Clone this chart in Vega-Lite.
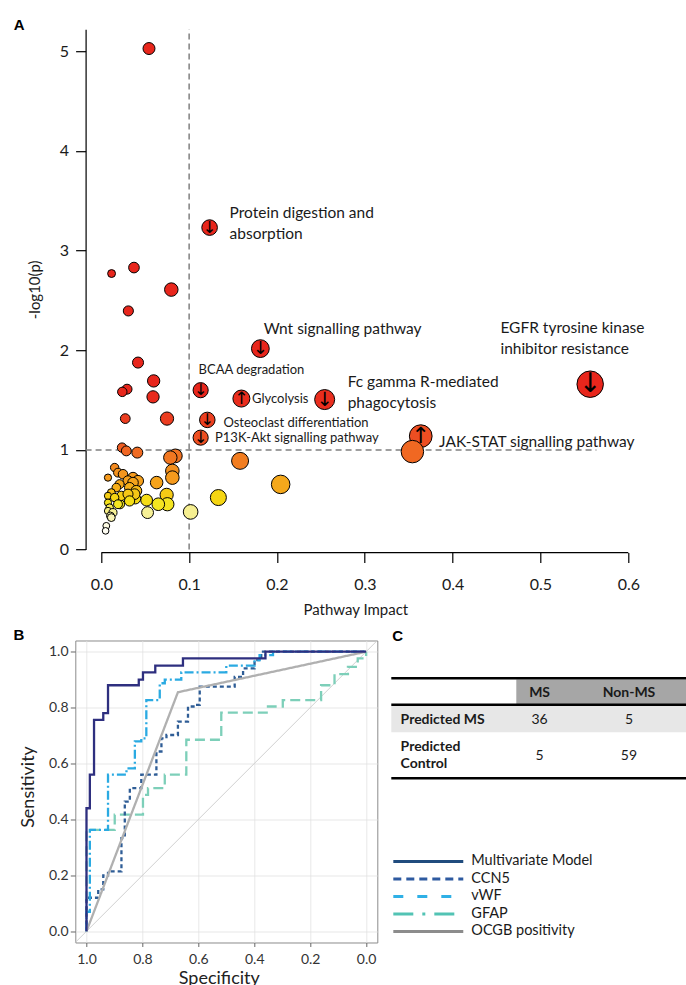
{
  "$schema": "https://vega.github.io/schema/vega-lite/v6.json",
  "autosize": {"type": "pad"},
  "padding": {"left": 12.3, "top": 17.2, "right": 0, "bottom": 0},
  "background": "white",
  "config": {
    "view": {"stroke": null},
    "font": "Lato",
    "axis": {"labelFont": "Lato", "titleFont": "Lato", "titleFontWeight": "normal", "labelFlush": false}
  },
  "datasets": {
    "pts": [
      {"impact": 0.0543, "logp": 5.026}, {"impact": 0.0117, "logp": 2.769}, {"impact": 0.0372, "logp": 2.829},
      {"impact": 0.0797, "logp": 2.608}, {"impact": 0.0308, "logp": 2.394}, {"impact": 0.0418, "logp": 1.876},
      {"impact": 0.0596, "logp": 1.692}, {"impact": 0.0293, "logp": 1.609}, {"impact": 0.0239, "logp": 1.582},
      {"impact": 0.0589, "logp": 1.532}, {"impact": 0.0273, "logp": 1.314}, {"impact": 0.0748, "logp": 1.314},
      {"impact": 0.0236, "logp": 1.023}, {"impact": 0.0285, "logp": 0.99}, {"impact": 0.041, "logp": 0.973},
      {"impact": 0.0843, "logp": 0.94}, {"impact": 0.0786, "logp": 0.923}, {"impact": 0.158, "logp": 0.89},
      {"impact": 0.0809, "logp": 0.789}, {"impact": 0.0809, "logp": 0.722}, {"impact": 0.063, "logp": 0.672},
      {"impact": 0.2042, "logp": 0.654}, {"impact": 0.1333, "logp": 0.522}, {"impact": 0.1017, "logp": 0.378},
      {"impact": 0.0744, "logp": 0.549}, {"impact": 0.0752, "logp": 0.455}, {"impact": 0.0649, "logp": 0.455},
      {"impact": 0.0527, "logp": 0.371}, {"impact": 0.0516, "logp": 0.496}, {"impact": 0.0387, "logp": 0.512},
      {"impact": 0.0213, "logp": 0.455}, {"impact": 0.0152, "logp": 0.823}, {"impact": 0.019, "logp": 0.772},
      {"impact": 0.0076, "logp": 0.722}, {"impact": 0.0361, "logp": 0.722}, {"impact": 0.0247, "logp": 0.756},
      {"impact": 0.0304, "logp": 0.69}, {"impact": 0.0418, "logp": 0.689}, {"impact": 0.0361, "logp": 0.672},
      {"impact": 0.0208, "logp": 0.656}, {"impact": 0.0322, "logp": 0.622}, {"impact": 0.0171, "logp": 0.622},
      {"impact": 0.0399, "logp": 0.589}, {"impact": 0.0114, "logp": 0.572}, {"impact": 0.0228, "logp": 0.539},
      {"impact": 0.0379, "logp": 0.556}, {"impact": 0.0304, "logp": 0.556}, {"impact": 0.0076, "logp": 0.539},
      {"impact": 0.0152, "logp": 0.522}, {"impact": 0.0322, "logp": 0.488}, {"impact": 0.0076, "logp": 0.471},
      {"impact": 0.019, "logp": 0.455}, {"impact": 0.0095, "logp": 0.421}, {"impact": 0.0076, "logp": 0.388},
      {"impact": 0.0133, "logp": 0.371}, {"impact": 0.0103, "logp": 0.338}, {"impact": 0.0114, "logp": 0.321},
      {"impact": 0.0057, "logp": 0.238}, {"impact": 0.0049, "logp": 0.188},
      {"impact": 0.1233, "logp": 3.23, "dir": "↓"}, {"impact": 0.1811, "logp": 2.016, "dir": "↓"},
      {"impact": 0.1131, "logp": 1.599, "dir": "↓"}, {"impact": 0.1595, "logp": 1.515, "dir": "↑"},
      {"impact": 0.2543, "logp": 1.505, "dir": "↓"}, {"impact": 0.5566, "logp": 1.659, "dir": "↓"},
      {"impact": 0.1207, "logp": 1.301, "dir": "↓"}, {"impact": 0.1131, "logp": 1.123, "dir": "↓"},
      {"impact": 0.3637, "logp": 1.138, "dir": "↑"}, {"impact": 0.3542, "logp": 0.983}
    ],
    "lbl": [
      {"text": "Protein digestion and", "impact": 0.1461, "logp": 3.381, "grp": "major"},
      {"text": "absorption", "impact": 0.1461, "logp": 3.17, "grp": "major"},
      {"text": "Wnt signalling pathway", "impact": 0.1849, "logp": 2.211, "grp": "major"},
      {"text": "EGFR tyrosine kinase", "impact": 0.4544, "logp": 2.221, "grp": "major"},
      {"text": "inhibitor resistance", "impact": 0.4544, "logp": 2.01, "grp": "major"},
      {"text": "Fc gamma R-mediated", "impact": 0.2805, "logp": 1.682, "grp": "major"},
      {"text": "phagocytosis", "impact": 0.2805, "logp": 1.472, "grp": "major"},
      {"text": "JAK-STAT signalling pathway", "impact": 0.3846, "logp": 1.083, "grp": "major"},
      {"text": "BCAA degradation", "impact": 0.1108, "logp": 1.8, "grp": "minor"},
      {"text": "Glycolysis", "impact": 0.1716, "logp": 1.515, "grp": "minor"},
      {"text": "Osteoclast differentiation", "impact": 0.139, "logp": 1.268, "grp": "minor"},
      {"text": "P13K-Akt signalling pathway", "impact": 0.1295, "logp": 1.117, "grp": "minor"}
    ],
    "vref": [{"impact": 0.1, "logp": 0, "logp2": 5.22}],
    "href": [{"impact": -0.0179, "impact2": 0.5637, "logp": 1}],
    "xline": [{"impact": 0, "impact2": 0.6, "logp": -0.0301}],
    "panelA": [{"t": "A", "impact": -0.0998, "logp": 5.331}],
    "roc": [
      {"model": "GFAP", "i": 0, "spec": 1, "sens": 0}, {"model": "GFAP", "i": 1, "spec": 1, "sens": 0.363},
      {"model": "GFAP", "i": 2, "spec": 0.899, "sens": 0.363}, {"model": "GFAP", "i": 3, "spec": 0.899, "sens": 0.417},
      {"model": "GFAP", "i": 4, "spec": 0.798, "sens": 0.417}, {"model": "GFAP", "i": 5, "spec": 0.798, "sens": 0.488},
      {"model": "GFAP", "i": 6, "spec": 0.78, "sens": 0.488}, {"model": "GFAP", "i": 7, "spec": 0.78, "sens": 0.512},
      {"model": "GFAP", "i": 8, "spec": 0.72, "sens": 0.512}, {"model": "GFAP", "i": 9, "spec": 0.72, "sens": 0.56},
      {"model": "GFAP", "i": 10, "spec": 0.643, "sens": 0.56}, {"model": "GFAP", "i": 11, "spec": 0.643, "sens": 0.685},
      {"model": "GFAP", "i": 12, "spec": 0.518, "sens": 0.685}, {"model": "GFAP", "i": 13, "spec": 0.518, "sens": 0.782},
      {"model": "GFAP", "i": 14, "spec": 0.351, "sens": 0.782}, {"model": "GFAP", "i": 15, "spec": 0.351, "sens": 0.804},
      {"model": "GFAP", "i": 16, "spec": 0.298, "sens": 0.804}, {"model": "GFAP", "i": 17, "spec": 0.298, "sens": 0.827},
      {"model": "GFAP", "i": 18, "spec": 0.161, "sens": 0.827}, {"model": "GFAP", "i": 19, "spec": 0.161, "sens": 0.88},
      {"model": "GFAP", "i": 20, "spec": 0.113, "sens": 0.88}, {"model": "GFAP", "i": 21, "spec": 0.113, "sens": 0.92},
      {"model": "GFAP", "i": 22, "spec": 0.065, "sens": 0.92}, {"model": "GFAP", "i": 23, "spec": 0.065, "sens": 0.946},
      {"model": "GFAP", "i": 24, "spec": 0.03, "sens": 0.946}, {"model": "GFAP", "i": 25, "spec": 0.03, "sens": 0.976},
      {"model": "GFAP", "i": 26, "spec": 0, "sens": 0.976}, {"model": "GFAP", "i": 27, "spec": 0, "sens": 1},
      {"model": "CCN5", "i": 0, "spec": 1, "sens": 0}, {"model": "CCN5", "i": 1, "spec": 1, "sens": 0.12},
      {"model": "CCN5", "i": 2, "spec": 0.958, "sens": 0.12}, {"model": "CCN5", "i": 3, "spec": 0.958, "sens": 0.15},
      {"model": "CCN5", "i": 4, "spec": 0.94, "sens": 0.15}, {"model": "CCN5", "i": 5, "spec": 0.94, "sens": 0.2},
      {"model": "CCN5", "i": 6, "spec": 0.923, "sens": 0.2}, {"model": "CCN5", "i": 7, "spec": 0.923, "sens": 0.214},
      {"model": "CCN5", "i": 8, "spec": 0.875, "sens": 0.214}, {"model": "CCN5", "i": 9, "spec": 0.875, "sens": 0.333},
      {"model": "CCN5", "i": 10, "spec": 0.863, "sens": 0.333}, {"model": "CCN5", "i": 11, "spec": 0.863, "sens": 0.464},
      {"model": "CCN5", "i": 12, "spec": 0.845, "sens": 0.464}, {"model": "CCN5", "i": 13, "spec": 0.845, "sens": 0.512},
      {"model": "CCN5", "i": 14, "spec": 0.804, "sens": 0.512}, {"model": "CCN5", "i": 15, "spec": 0.804, "sens": 0.56},
      {"model": "CCN5", "i": 16, "spec": 0.75, "sens": 0.56}, {"model": "CCN5", "i": 17, "spec": 0.75, "sens": 0.643},
      {"model": "CCN5", "i": 18, "spec": 0.732, "sens": 0.643}, {"model": "CCN5", "i": 19, "spec": 0.732, "sens": 0.69},
      {"model": "CCN5", "i": 20, "spec": 0.714, "sens": 0.69}, {"model": "CCN5", "i": 21, "spec": 0.714, "sens": 0.702},
      {"model": "CCN5", "i": 22, "spec": 0.673, "sens": 0.702}, {"model": "CCN5", "i": 23, "spec": 0.673, "sens": 0.75},
      {"model": "CCN5", "i": 24, "spec": 0.637, "sens": 0.75}, {"model": "CCN5", "i": 25, "spec": 0.637, "sens": 0.804},
      {"model": "CCN5", "i": 26, "spec": 0.61, "sens": 0.804}, {"model": "CCN5", "i": 27, "spec": 0.61, "sens": 0.81},
      {"model": "CCN5", "i": 28, "spec": 0.595, "sens": 0.81}, {"model": "CCN5", "i": 29, "spec": 0.595, "sens": 0.875},
      {"model": "CCN5", "i": 30, "spec": 0.47, "sens": 0.875}, {"model": "CCN5", "i": 31, "spec": 0.47, "sens": 0.91},
      {"model": "CCN5", "i": 32, "spec": 0.44, "sens": 0.91}, {"model": "CCN5", "i": 33, "spec": 0.44, "sens": 0.94},
      {"model": "CCN5", "i": 34, "spec": 0.399, "sens": 0.94}, {"model": "CCN5", "i": 35, "spec": 0.399, "sens": 0.97},
      {"model": "CCN5", "i": 36, "spec": 0.375, "sens": 0.97}, {"model": "CCN5", "i": 37, "spec": 0.375, "sens": 1},
      {"model": "CCN5", "i": 38, "spec": 0, "sens": 1},
      {"model": "vWF", "i": 0, "spec": 1, "sens": 0}, {"model": "vWF", "i": 1, "spec": 1, "sens": 0.07},
      {"model": "vWF", "i": 2, "spec": 0.988, "sens": 0.07}, {"model": "vWF", "i": 3, "spec": 0.988, "sens": 0.363},
      {"model": "vWF", "i": 4, "spec": 0.923, "sens": 0.363}, {"model": "vWF", "i": 5, "spec": 0.923, "sens": 0.56},
      {"model": "vWF", "i": 6, "spec": 0.857, "sens": 0.56}, {"model": "vWF", "i": 7, "spec": 0.857, "sens": 0.583},
      {"model": "vWF", "i": 8, "spec": 0.827, "sens": 0.583}, {"model": "vWF", "i": 9, "spec": 0.827, "sens": 0.679},
      {"model": "vWF", "i": 10, "spec": 0.804, "sens": 0.679}, {"model": "vWF", "i": 11, "spec": 0.804, "sens": 0.69},
      {"model": "vWF", "i": 12, "spec": 0.786, "sens": 0.69}, {"model": "vWF", "i": 13, "spec": 0.786, "sens": 0.827},
      {"model": "vWF", "i": 14, "spec": 0.738, "sens": 0.827}, {"model": "vWF", "i": 15, "spec": 0.738, "sens": 0.887},
      {"model": "vWF", "i": 16, "spec": 0.72, "sens": 0.887}, {"model": "vWF", "i": 17, "spec": 0.72, "sens": 0.9},
      {"model": "vWF", "i": 18, "spec": 0.661, "sens": 0.9}, {"model": "vWF", "i": 19, "spec": 0.661, "sens": 0.926},
      {"model": "vWF", "i": 20, "spec": 0.5, "sens": 0.926}, {"model": "vWF", "i": 21, "spec": 0.5, "sens": 0.95},
      {"model": "vWF", "i": 22, "spec": 0.399, "sens": 0.95}, {"model": "vWF", "i": 23, "spec": 0.399, "sens": 0.97},
      {"model": "vWF", "i": 24, "spec": 0.381, "sens": 0.97}, {"model": "vWF", "i": 25, "spec": 0.381, "sens": 0.988},
      {"model": "vWF", "i": 26, "spec": 0.333, "sens": 0.988}, {"model": "vWF", "i": 27, "spec": 0.333, "sens": 1},
      {"model": "vWF", "i": 28, "spec": 0, "sens": 1},
      {"model": "OCGB positivity", "i": 0, "spec": 1, "sens": 0}, {"model": "OCGB positivity", "i": 1, "spec": 0.673, "sens": 0.855},
      {"model": "OCGB positivity", "i": 2, "spec": 0, "sens": 1},
      {"model": "Multivariate Model", "i": 0, "spec": 1, "sens": 0}, {"model": "Multivariate Model", "i": 1, "spec": 1, "sens": 0.44},
      {"model": "Multivariate Model", "i": 2, "spec": 0.988, "sens": 0.44}, {"model": "Multivariate Model", "i": 3, "spec": 0.988, "sens": 0.56},
      {"model": "Multivariate Model", "i": 4, "spec": 0.973, "sens": 0.56}, {"model": "Multivariate Model", "i": 5, "spec": 0.973, "sens": 0.756},
      {"model": "Multivariate Model", "i": 6, "spec": 0.94, "sens": 0.756}, {"model": "Multivariate Model", "i": 7, "spec": 0.94, "sens": 0.78},
      {"model": "Multivariate Model", "i": 8, "spec": 0.923, "sens": 0.78}, {"model": "Multivariate Model", "i": 9, "spec": 0.923, "sens": 0.88},
      {"model": "Multivariate Model", "i": 10, "spec": 0.813, "sens": 0.88}, {"model": "Multivariate Model", "i": 11, "spec": 0.813, "sens": 0.9},
      {"model": "Multivariate Model", "i": 12, "spec": 0.798, "sens": 0.9}, {"model": "Multivariate Model", "i": 13, "spec": 0.798, "sens": 0.926},
      {"model": "Multivariate Model", "i": 14, "spec": 0.754, "sens": 0.926}, {"model": "Multivariate Model", "i": 15, "spec": 0.754, "sens": 0.95},
      {"model": "Multivariate Model", "i": 16, "spec": 0.655, "sens": 0.95}, {"model": "Multivariate Model", "i": 17, "spec": 0.655, "sens": 0.976},
      {"model": "Multivariate Model", "i": 18, "spec": 0.36, "sens": 0.976}, {"model": "Multivariate Model", "i": 19, "spec": 0.36, "sens": 1},
      {"model": "Multivariate Model", "i": 20, "spec": 0, "sens": 1}
    ],
    "diag": [{"spec": 1.04, "sens": -0.04}, {"spec": -0.04, "sens": 1.04}],
    "panelB": [{"t": "B", "spec": 1.2607, "sens": 1.0847}],
    "tshade": [
      {"kind": "header", "x0": 0.4223, "x1": 1, "y0": 0.1291, "y1": 0.2103},
      {"kind": "row", "x0": 0, "x1": 1, "y0": 0.2152, "y1": 0.3036}
    ],
    "tlines": [{"x0": 0, "x1": 1, "y": 0.1248}, {"x0": 0, "x1": 1, "y": 0.2129}, {"x0": 0, "x1": 1, "y": 0.456}],
    "thead": [{"t": "MS", "x": 0.501, "y": 0.1745}, {"t": "Non-MS", "x": 0.803, "y": 0.1745}],
    "trow": [{"t": "Predicted MS", "x": 0.0314, "y": 0.2626}, {"t": "Predicted", "x": 0.0314, "y": 0.3543}, {"t": "Control", "x": 0.0314, "y": 0.4096}],
    "tval": [{"t": "36", "x": 0.501, "y": 0.2626}, {"t": "5", "x": 0.803, "y": 0.2626}, {"t": "5", "x": 0.501, "y": 0.3841}, {"t": "59", "x": 0.803, "y": 0.3841}],
    "leg": [
      {"model": "Multivariate Model", "x0": 0.0068, "x1": 0.2432, "lx": 0.2703, "y": 0.7318},
      {"model": "CCN5", "x0": 0.0068, "x1": 0.2432, "lx": 0.2703, "y": 0.7897},
      {"model": "vWF", "x0": 0.0068, "x1": 0.2432, "lx": 0.2703, "y": 0.8477},
      {"model": "GFAP", "x0": 0.0068, "x1": 0.2432, "lx": 0.2703, "y": 0.9056},
      {"model": "OCGB positivity", "x0": 0.0068, "x1": 0.2432, "lx": 0.2703, "y": 0.9636}
    ],
    "panelC": [{"t": "C", "x": 0.0034, "y": -0.0381}]
  },
  "spacing": 90.3,
  "bounds": "flush",
  "resolve": {"scale": {"x": "independent", "y": "independent", "color": "independent", "size": "independent", "strokeDash": "independent"}, "legend": {"color": "independent", "size": "independent", "strokeDash": "independent"}},
  "vconcat": [
    {
      "width": 553,
      "height": 520.4,
      "resolve": {"scale": {"size": "independent"}},
      "layer": [
        {
          "data": {"name": "vref"},
          "mark": {"type": "rule", "color": "#808080", "strokeWidth": 1.5, "strokeDash": [6, 4]},
          "encoding": {
            "x": {"field": "impact", "type": "quantitative", "scale": {"domain": [-0.0296, 0.6], "nice": false, "zero": false},
              "axis": {"title": "Pathway Impact", "values": [0, 0.1, 0.2, 0.3, 0.4, 0.5, 0.6], "format": ".1f", "domain": false, "grid": false,
                "offset": 3, "tickSize": 10, "tickColor": "#000", "tickWidth": 1.2, "labelFontSize": 16, "labelColor": "#1a1a1a", "labelPadding": 14,
                "titleFontSize": 15, "titleColor": "#1a1a1a", "titleX": 280, "titleY": 50.3, "titleBaseline": "top", "titleAlign": "center"}},
            "y": {"field": "logp", "type": "quantitative", "scale": {"domain": [0, 5.22], "nice": false, "zero": false},
              "axis": {"title": "-log10(p)", "values": [0, 1, 2, 3, 4, 5], "format": "d", "domain": true, "domainColor": "#000", "domainWidth": 1.2, "grid": false,
                "offset": -10.3, "tickSize": 10, "tickColor": "#000", "tickWidth": 1.2, "labelFontSize": 16, "labelColor": "#1a1a1a", "labelPadding": 7,
                "titleFontSize": 15, "titleColor": "#1a1a1a", "titleX": -51, "titleY": 260.2, "titleBaseline": "middle", "titleAlign": "center"}},
            "y2": {"field": "logp2"}
          }
        },
        {
          "data": {"name": "href"},
          "mark": {"type": "rule", "color": "#808080", "strokeWidth": 1.5, "strokeDash": [6, 4]},
          "encoding": {
            "x": {"field": "impact", "type": "quantitative"},
            "x2": {"field": "impact2"},
            "y": {"field": "logp", "type": "quantitative"}
          }
        },
        {
          "data": {"name": "xline"},
          "mark": {"type": "rule", "color": "#000", "strokeWidth": 1.2},
          "encoding": {
            "x": {"field": "impact", "type": "quantitative"},
            "x2": {"field": "impact2"},
            "y": {"field": "logp", "type": "quantitative"}
          }
        },
        {
          "data": {"name": "pts"},
          "mark": {"type": "circle", "opacity": 1, "stroke": "#000", "strokeWidth": 1},
          "encoding": {
            "x": {"field": "impact", "type": "quantitative"},
            "y": {"field": "logp", "type": "quantitative"},
            "size": {"field": "impact", "type": "quantitative", "scale": {"type": "pow", "exponent": 0.75, "domain": [0, 0.6], "range": [25, 740]}, "legend": null},
            "color": {"field": "logp", "type": "quantitative", "legend": null,
              "scale": {"domain": [0.15, 0.25, 0.38, 0.46, 0.52, 0.6, 0.7, 0.8, 0.93, 1.05, 1.35, 1.6],
                "range": ["#ffffff", "#fdfbe0", "#f6ef90", "#f4e41a", "#f5d612", "#f6b41a", "#f59d1c", "#f38e1f", "#f17621", "#ee5623", "#eb3a20", "#e8261c"],
                "interpolate": "rgb", "clamp": true}}
          }
        },
        {
          "data": {"name": "pts"},
          "transform": [{"filter": "datum.dir != null"}],
          "mark": {"type": "text", "font": "DejaVu Sans", "color": "#000", "align": "center", "baseline": "middle"},
          "encoding": {
            "x": {"field": "impact", "type": "quantitative"},
            "y": {"field": "logp", "type": "quantitative"},
            "text": {"field": "dir"},
            "size": {"field": "impact", "type": "quantitative", "scale": {"domain": [0.11, 0.56], "range": [16, 27]}, "legend": null}
          }
        },
        {
          "data": {"name": "lbl"},
          "transform": [{"filter": "datum.grp == 'major'"}],
          "mark": {"type": "text", "font": "Lato", "fontSize": 15.5, "color": "#1a1a1a", "align": "left", "baseline": "middle"},
          "encoding": {
            "x": {"field": "impact", "type": "quantitative"},
            "y": {"field": "logp", "type": "quantitative"},
            "text": {"field": "text"}
          }
        },
        {
          "data": {"name": "lbl"},
          "transform": [{"filter": "datum.grp == 'minor'"}],
          "mark": {"type": "text", "font": "Lato", "fontSize": 13, "color": "#1a1a1a", "align": "left", "baseline": "middle"},
          "encoding": {
            "x": {"field": "impact", "type": "quantitative"},
            "y": {"field": "logp", "type": "quantitative"},
            "text": {"field": "text"}
          }
        },
        {
          "data": {"name": "panelA"},
          "mark": {"type": "text", "font": "Liberation Sans", "fontWeight": "bold", "fontSize": 15, "color": "#000", "align": "left", "baseline": "top"},
          "encoding": {
            "x": {"field": "impact", "type": "quantitative"},
            "y": {"field": "logp", "type": "quantitative"},
            "text": {"field": "t"}
          }
        }
      ]
    },
    {
      "spacing": 14,
      "bounds": "flush",
      "resolve": {"scale": {"x": "independent", "y": "independent", "color": "independent", "strokeDash": "independent"}, "legend": {"color": "independent", "strokeDash": "independent"}},
      "hconcat": [
        {
          "width": 302,
          "height": 302,
          "view": {"stroke": "#8c8c8c", "strokeWidth": 1},
          "layer": [
            {
              "data": {"name": "diag"},
              "mark": {"type": "line", "color": "#d0d0d0", "strokeWidth": 1},
              "encoding": {
                "x": {"field": "spec", "type": "quantitative", "scale": {"domain": [-0.04, 1.04], "reverse": true, "nice": false, "zero": false},
                  "axis": {"title": "Specificity", "values": [0, 0.1, 0.2, 0.3, 0.4, 0.5, 0.6, 0.7, 0.8, 0.9, 1],
                    "labelExpr": "round(datum.value*10) % 2 == 0 ? format(datum.value, '.1f') : ''",
                    "labelFontSize": 14, "labelColor": "#333", "labelPadding": 6, "tickSize": 4, "tickColor": "#666",
                    "tickOpacity": {"condition": {"test": "round(datum.value*10) % 2 == 1", "value": 0}, "value": 1},
                    "domain": false, "grid": true, "gridWidth": 0.8,
                    "gridColor": {"condition": {"test": "round(datum.value*10) % 2 == 1", "value": "#f0f0f0"}, "value": "#e2e2e2"},
                    "titleFontSize": 18, "titleColor": "#222", "titleX": 143.5, "titleY": 27, "titleBaseline": "top", "titleAlign": "center"}},
                "y": {"field": "sens", "type": "quantitative", "scale": {"domain": [-0.04, 1.04], "nice": false, "zero": false},
                  "axis": {"title": "Sensitivity", "values": [0, 0.1, 0.2, 0.3, 0.4, 0.5, 0.6, 0.7, 0.8, 0.9, 1],
                    "labelExpr": "round(datum.value*10) % 2 == 0 ? format(datum.value, '.1f') : ''",
                    "labelFontSize": 14, "labelColor": "#333", "labelPadding": 2.3, "tickSize": 5, "tickColor": "#666",
                    "tickOpacity": {"condition": {"test": "round(datum.value*10) % 2 == 1", "value": 0}, "value": 1},
                    "domain": false, "grid": true, "gridWidth": 0.8,
                    "gridColor": {"condition": {"test": "round(datum.value*10) % 2 == 1", "value": "#f0f0f0"}, "value": "#e2e2e2"},
                    "titleFontSize": 18, "titleColor": "#222", "titleX": -46.7, "titleY": 146, "titleBaseline": "middle", "titleAlign": "center"}}
              }
            },
            {
              "data": {"name": "roc"},
              "mark": {"type": "line", "strokeWidth": 2.3},
              "encoding": {
                "x": {"field": "spec", "type": "quantitative"},
                "y": {"field": "sens", "type": "quantitative"},
                "order": {"field": "i", "type": "quantitative"},
                "color": {"field": "model", "type": "nominal", "legend": null,
                  "scale": {"domain": ["Multivariate Model", "CCN5", "vWF", "GFAP", "OCGB positivity"], "range": ["#2e2f7f", "#2f5d96", "#2aaae2", "#7dcfb9", "#b0b0b0"]}},
                "strokeDash": {"field": "model", "type": "nominal", "legend": null,
                  "scale": {"domain": ["Multivariate Model", "CCN5", "vWF", "GFAP", "OCGB positivity"], "range": [[1, 0], [4, 3], [9, 3, 2, 3], [10, 5], [1, 0]]}}
              }
            },
            {
              "data": {"name": "panelB"},
              "mark": {"type": "text", "font": "Liberation Sans", "fontWeight": "bold", "fontSize": 15, "color": "#000", "align": "left", "baseline": "top"},
              "encoding": {
                "x": {"field": "spec", "type": "quantitative"},
                "y": {"field": "sens", "type": "quantitative"},
                "text": {"field": "t"}
              }
            }
          ]
        },
        {
          "width": 296,
          "height": 302,
          "layer": [
            {
              "data": {"name": "tshade"},
              "mark": {"type": "rect"},
              "encoding": {
                "x": {"field": "x0", "type": "quantitative", "scale": {"domain": [0, 1], "nice": false, "zero": false}, "axis": null},
                "x2": {"field": "x1"},
                "y": {"field": "y0", "type": "quantitative", "scale": {"domain": [0, 1], "nice": false, "zero": false, "reverse": true}, "axis": null},
                "y2": {"field": "y1"},
                "fill": {"field": "kind", "type": "nominal", "scale": {"domain": ["header", "row"], "range": ["#a6a6a6", "#e7e7e7"]}, "legend": null}
              }
            },
            {
              "data": {"name": "tlines"},
              "mark": {"type": "rule", "color": "#000", "strokeWidth": 2.5},
              "encoding": {
                "x": {"field": "x0", "type": "quantitative"},
                "x2": {"field": "x1"},
                "y": {"field": "y", "type": "quantitative"}
              }
            },
            {
              "data": {"name": "thead"},
              "mark": {"type": "text", "font": "Lato", "fontWeight": "bold", "fontSize": 14, "color": "#1a1a1a", "align": "center", "baseline": "middle"},
              "encoding": {"x": {"field": "x", "type": "quantitative"}, "y": {"field": "y", "type": "quantitative"}, "text": {"field": "t"}}
            },
            {
              "data": {"name": "trow"},
              "mark": {"type": "text", "font": "Lato", "fontWeight": "bold", "fontSize": 14, "color": "#1a1a1a", "align": "left", "baseline": "middle"},
              "encoding": {"x": {"field": "x", "type": "quantitative"}, "y": {"field": "y", "type": "quantitative"}, "text": {"field": "t"}}
            },
            {
              "data": {"name": "tval"},
              "mark": {"type": "text", "font": "Lato", "fontSize": 14, "color": "#1a1a1a", "align": "center", "baseline": "middle"},
              "encoding": {"x": {"field": "x", "type": "quantitative"}, "y": {"field": "y", "type": "quantitative"}, "text": {"field": "t"}}
            },
            {
              "data": {"name": "leg"},
              "mark": {"type": "rule", "strokeWidth": 3.2},
              "encoding": {
                "x": {"field": "x0", "type": "quantitative"},
                "x2": {"field": "x1"},
                "y": {"field": "y", "type": "quantitative"},
                "color": {"field": "model", "type": "nominal", "legend": null,
                  "scale": {"domain": ["Multivariate Model", "CCN5", "vWF", "GFAP", "OCGB positivity"], "range": ["#204c7e", "#2e5aa0", "#2fb0e6", "#52c3b4", "#8c8c8c"]}},
                "strokeDash": {"field": "model", "type": "nominal", "legend": null,
                  "scale": {"domain": ["Multivariate Model", "CCN5", "vWF", "GFAP", "OCGB positivity"], "range": [[1, 0], [8, 5], [10, 14], [20, 9, 3, 9], [1, 0]]}}
              }
            },
            {
              "data": {"name": "leg"},
              "mark": {"type": "text", "font": "Lato", "fontSize": 14.5, "color": "#1a1a1a", "align": "left", "baseline": "middle"},
              "encoding": {"x": {"field": "lx", "type": "quantitative"}, "y": {"field": "y", "type": "quantitative"}, "text": {"field": "model"}}
            },
            {
              "data": {"name": "panelC"},
              "mark": {"type": "text", "font": "Liberation Sans", "fontWeight": "bold", "fontSize": 15, "color": "#000", "align": "left", "baseline": "top"},
              "encoding": {"x": {"field": "x", "type": "quantitative"}, "y": {"field": "y", "type": "quantitative"}, "text": {"field": "t"}}
            }
          ]
        }
      ]
    }
  ]
}
